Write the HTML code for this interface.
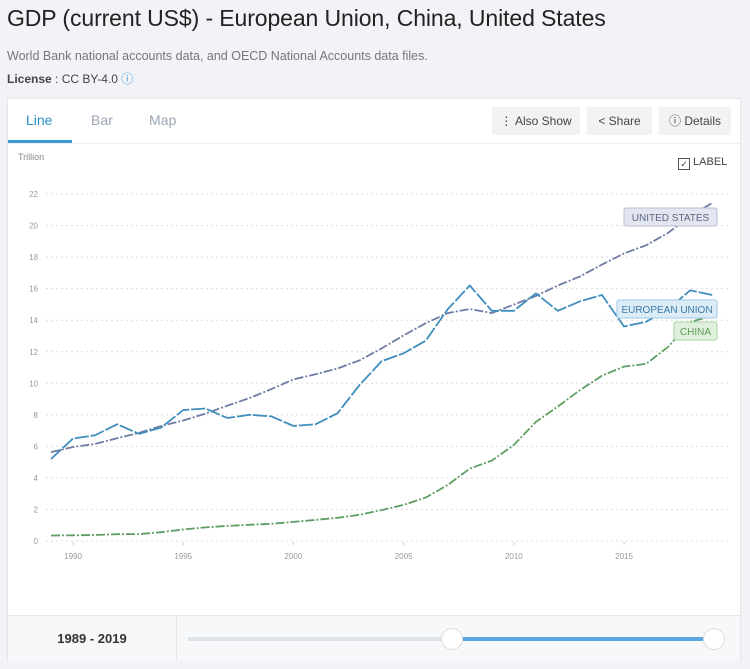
<!DOCTYPE html>
<html><head><meta charset="utf-8"><style>
body{margin:0;width:750px;height:669px;background:#f1f3f6;font-family:"Liberation Sans",sans-serif;position:relative;overflow:hidden}
.t{position:absolute;left:7px;top:5px;font-size:23px;color:#222;font-weight:500;letter-spacing:-0.1px}
.s{position:absolute;left:7px;top:49px;font-size:12.5px;color:#777}
.l{position:absolute;left:7px;top:70px;font-size:12px;color:#444}
.card{position:absolute;left:7px;top:98px;width:734px;height:563px;background:#fff;border:1px solid #e4e6ea;box-sizing:border-box}
.tab{position:absolute;top:13px;font-size:14px;color:#9aa6b2}
.btn{position:absolute;top:8px;height:28px;background:#f1f2f4;font-size:12px;color:#444;line-height:28px;text-align:center}
.foot{position:absolute;left:0;top:516px;width:732px;height:45px;background:#f7f8fa;border-top:1px solid #e4e6ea}
</style></head><body>
<div class="t">GDP (current US$) - European Union, China, United States</div>
<div class="s">World Bank national accounts data, and OECD National Accounts data files.</div>
<div class="l"><b>License</b> : CC BY-4.0 <span style="color:#3a8fd6">ⓘ</span></div>
<div class="card">
<div class="tab" style="left:18px;color:#2a8fc9">Line</div>
<div style="position:absolute;left:0;top:41px;width:64px;height:3px;background:#3a9bd0"></div>
<div class="tab" style="left:83px">Bar</div>
<div class="tab" style="left:141px">Map</div>
<div class="btn" style="left:484px;width:88px">⋮ Also Show</div>
<div class="btn" style="left:579px;width:65px">&lt; Share</div>
<div class="btn" style="left:651px;width:72px">ⓘ Details</div>
<div style="position:absolute;left:0;top:44px;width:732px;height:1px;background:#eceef1"></div>
<div style="position:absolute;left:10px;top:53px;font-size:9px;color:#888">Trillion</div>
<div style="position:absolute;left:670px;top:57px;font-size:11px;color:#444"><span style="display:inline-block;width:10px;height:10px;border:1px solid #555;vertical-align:-2px;font-size:9px;line-height:10px;text-align:center">✓</span> LABEL</div>
<div class="foot">
<div style="position:absolute;left:0;top:0;width:168px;height:45px;border-right:1px solid #e4e6ea;font-size:13px;font-weight:bold;color:#333;line-height:45px;text-align:center">1989 - 2019</div>
<div style="position:absolute;left:180px;top:21px;width:265px;height:4px;background:#dfe2e7"></div>
<div style="position:absolute;left:445px;top:21px;width:262px;height:4px;background:#5aa8e0"></div>
<div style="position:absolute;left:433px;top:12px;width:20px;height:20px;border-radius:50%;background:#fff;border:1px solid #ddd"></div>
<div style="position:absolute;left:695px;top:12px;width:20px;height:20px;border-radius:50%;background:#fff;border:1px solid #ddd"></div>
</div>
</div>
<svg id="c" width="750" height="669" style="position:absolute;left:0;top:0"></svg>
<script>
var us=[5.64,5.96,6.16,6.52,6.86,7.29,7.64,8.07,8.58,9.06,9.63,10.25,10.58,10.94,11.46,12.21,13.04,13.81,14.45,14.71,14.45,14.99,15.54,16.20,16.78,17.53,18.24,18.75,19.54,20.61,21.43];
var eu=[5.2,6.5,6.7,7.4,6.8,7.2,8.3,8.4,7.8,8.0,7.9,7.3,7.4,8.1,9.9,11.4,11.9,12.7,14.7,16.2,14.6,14.6,15.7,14.6,15.2,15.6,13.6,13.9,14.7,15.9,15.6];
var cn=[0.35,0.36,0.38,0.43,0.44,0.56,0.73,0.86,0.96,1.03,1.09,1.21,1.34,1.47,1.66,1.96,2.29,2.75,3.55,4.59,5.10,6.09,7.55,8.53,9.57,10.48,11.06,11.23,12.31,13.89,14.28];
function X(i){return 51+i*22.04}function Y(v){return 541-v*15.77}
var s='';
for(var g=0;g<=22;g+=2){var y=Y(g);s+='<line x1="46" x2="728" y1="'+y+'" y2="'+y+'" stroke="#ddd" stroke-dasharray="2,3"/>';s+='<text x="38" y="'+(y+3)+'" font-size="8" fill="#999" text-anchor="end" font-family="Liberation Sans">'+g+'</text>';}
for(var yr=1990;yr<=2015;yr+=5){var x=X(yr-1989);s+='<text x="'+x+'" y="559" font-size="8" fill="#999" text-anchor="middle" font-family="Liberation Sans">'+yr+'</text><line x1="'+x+'" x2="'+x+'" y1="542" y2="545" stroke="#ccc"/>';}
function pl(d,c,da){var p=d.map(function(v,i){return X(i).toFixed(1)+','+Y(v).toFixed(1)}).join(' ');return '<polyline points="'+p+'" fill="none" stroke="'+c+'" stroke-width="1.8" stroke-dasharray="'+da+'"/>';}
s+=pl(cn,'#5f9e63','9,2,2,2');s+=pl(us,'#6e7ba2','9,2,2,2');s+=pl(eu,'#3f8ebd','14,2');
function lb(x,y,w,t,bg,bd,fc){return '<rect x="'+x+'" y="'+y+'" width="'+w+'" height="18" rx="2" fill="'+bg+'" stroke="'+bd+'"/><text x="'+(x+w/2)+'" y="'+(y+13)+'" font-size="10" fill="'+fc+'" text-anchor="middle" font-family="Liberation Sans">'+t+'</text>';}
s+=lb(624,208,93,'UNITED STATES','#e3e5f0','#b9bfd6','#5b6686');
s+=lb(617,300,100,'EUROPEAN UNION','#dcecf7','#9fc8e4','#3d79a6');
s+=lb(674,322,43,'CHINA','#dff0dc','#a8d3a1','#5e9a57');
document.getElementById('c').innerHTML=s;
</script>
</body></html>
